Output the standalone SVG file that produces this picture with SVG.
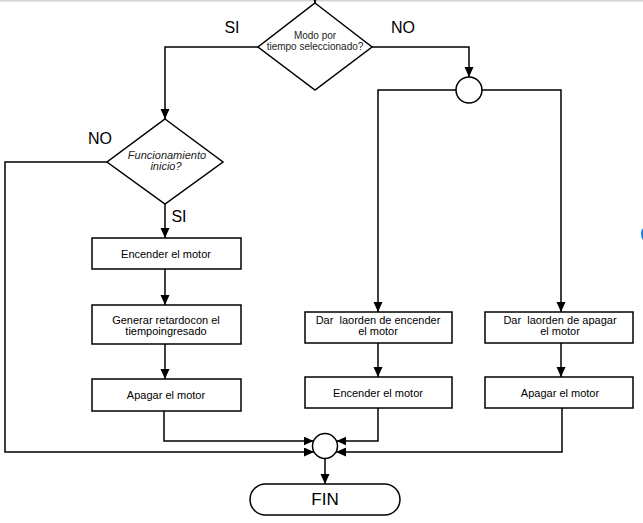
<svg xmlns="http://www.w3.org/2000/svg" width="643" height="523" viewBox="0 0 643 523">
<style>
.box{fill:#fff;stroke:#000;stroke-width:1.5}
.ln{fill:none;stroke:#000;stroke-width:1.5}
.t{font-family:"Liberation Sans",Arial,sans-serif;font-size:11px;fill:#000;text-anchor:middle}
.dt{font-family:"Liberation Sans",Arial,sans-serif;font-size:10px;fill:#222;text-anchor:middle}
.it{font-family:"Liberation Sans",Arial,sans-serif;font-size:11px;font-style:italic;fill:#222;text-anchor:middle}
.lbl{font-family:"Liberation Sans",Arial,sans-serif;font-size:16px;fill:#000;text-anchor:middle}
.fin{font-family:"Liberation Sans",Arial,sans-serif;font-size:17px;fill:#000;text-anchor:middle}
</style>
<defs>
<marker id="ah" markerUnits="userSpaceOnUse" markerWidth="10" markerHeight="10" refX="10" refY="4.5" orient="auto">
<path d="M0,0 L10,4.5 L0,9 z" fill="#000"/>
</marker>
</defs>
<rect x="0" y="0" width="643" height="1.5" fill="#d4d4d4"/>
<ellipse cx="648" cy="234" rx="7" ry="9" fill="#1a7be8"/>
<g id="connectors">
<path class="ln" d="M315,-6 L315,3" marker-end="url(#ah)"/>
<path class="ln" d="M258,47 L165,47 L165,119" marker-end="url(#ah)"/>
<path class="ln" d="M107,162 L5,162 L5,452 L314,452" marker-end="url(#ah)"/>
<path class="ln" d="M165,204 L165,238" marker-end="url(#ah)"/>
<path class="ln" d="M165,269 L165,305" marker-end="url(#ah)"/>
<path class="ln" d="M165,344 L165,379" marker-end="url(#ah)"/>
<path class="ln" d="M164,411 L164,441 L313.6,441" marker-end="url(#ah)"/>
<path class="ln" d="M372,47 L469,47 L469,77" marker-end="url(#ah)"/>
<path class="ln" d="M456,90 L378,90 L378,312" marker-end="url(#ah)"/>
<path class="ln" d="M482,90 L561,90 L561,312" marker-end="url(#ah)"/>
<path class="ln" d="M378,343 L378,377" marker-end="url(#ah)"/>
<path class="ln" d="M561,343 L561,377" marker-end="url(#ah)"/>
<path class="ln" d="M378,408 L378,441 L336.4,441" marker-end="url(#ah)"/>
<path class="ln" d="M562,408 L562,452 L336,452" marker-end="url(#ah)"/>
<path class="ln" d="M325,458.5 L325,484" marker-end="url(#ah)"/>
</g>
<g id="labels">
<text class="lbl" x="232" y="33">SI</text>
<text class="lbl" x="403" y="33">NO</text>
<text class="lbl" x="100" y="144">NO</text>
<text class="lbl" x="179" y="222">SI</text>
</g>
<g id="decision-modo">
<polygon class="box" points="315,3 372,47 315,90 258,47"/>
<text class="dt" x="315" y="39">Modo por</text>
<text class="dt" x="315" y="50">tiempo seleccionado?</text>
</g>
<g id="decision-funcionamiento">
<polygon class="box" points="165,119 223,162 165,204 107,162"/>
<text class="it" x="167" y="159">Funcionamiento</text>
<text class="it" x="166" y="170">inicio?</text>
</g>
<g id="encender1">
<rect class="box" x="92" y="238" width="149" height="31"/>
<text class="t" x="166" y="257.5">Encender el motor</text>
</g>
<g id="retardo">
<rect class="box" x="92" y="305" width="149" height="39"/>
<text class="t" x="166" y="324">Generar retardocon el</text>
<text class="t" x="166" y="335">tiempoingresado</text>
</g>
<g id="apagar1">
<rect class="box" x="92" y="379" width="149" height="32"/>
<text class="t" x="166" y="399">Apagar el motor</text>
</g>
<g id="merge-top">
<circle class="box" cx="469" cy="90" r="13"/>
</g>
<g id="orden-encender">
<rect class="box" x="305" y="312" width="147" height="31"/>
<text class="t" x="378" y="324" xml:space="preserve">Dar  laorden de encender</text>
<text class="t" x="378" y="335">el motor</text>
</g>
<g id="encender2">
<rect class="box" x="305" y="377" width="147" height="31"/>
<text class="t" x="378" y="396.5">Encender el motor</text>
</g>
<g id="orden-apagar">
<rect class="box" x="485" y="312" width="148" height="31"/>
<text class="t" x="560" y="324" xml:space="preserve">Dar  laorden de apagar</text>
<text class="t" x="560" y="335">el motor</text>
</g>
<g id="apagar2">
<rect class="box" x="485" y="377" width="148" height="31"/>
<text class="t" x="560" y="396.5">Apagar el motor</text>
</g>
<g id="merge-bottom">
<circle class="box" cx="325" cy="446" r="12.5"/>
</g>
<g id="fin">
<rect class="box" x="250" y="484" width="150" height="31" rx="15.5" ry="15.5"/>
<text class="fin" x="325" y="505">FIN</text>
</g>
</svg>
